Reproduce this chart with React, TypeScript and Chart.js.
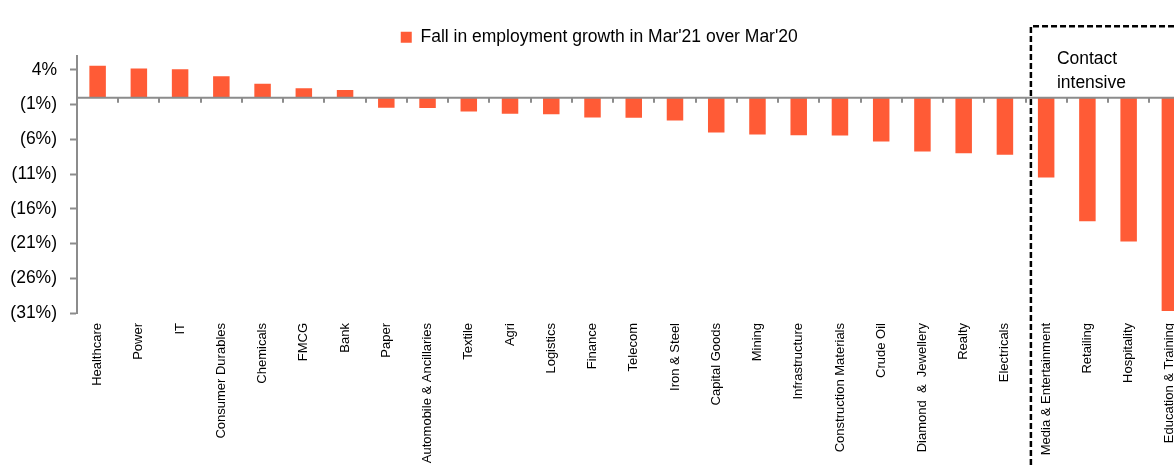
import { useEffect, useRef } from 'react';
import { Chart, registerables } from 'chart.js';

Chart.register(...registerables);

const categories = [
  'Healthcare',
  'Power',
  'IT',
  'Consumer Durables',
  'Chemicals',
  'FMCG',
  'Bank',
  'Paper',
  'Automobile & Ancillaries',
  'Textile',
  'Agri',
  'Logistics',
  'Finance',
  'Telecom',
  'Iron & Steel',
  'Capital Goods',
  'Mining',
  'Infrastructure',
  'Construction Materials',
  'Crude Oil',
  'Diamond  &  Jewellery',
  'Realty',
  'Electricals',
  'Media & Entertainment',
  'Retailing',
  'Hospitality',
  'Education & Training',
];

const growth = [
  4.6, 4.2, 4.1, 3.1, 2.0, 1.35, 1.1, -1.45, -1.5, -2.0, -2.3, -2.4, -2.85, -2.9,
  -3.3, -5.0, -5.3, -5.4, -5.45, -6.3, -7.75, -8.0, -8.2, -11.5, -17.8, -20.7, -30.7,
];

const seriesLabel = "Fall in employment growth in Mar'21 over Mar'20";
const yTickValues = [4, -1, -6, -11, -16, -21, -26, -31];
const yMin = -31;
const yMax = 6;

const contactLines = ['Contact', 'intensive'];
const contactBoundary = 22.63; // category position of the dashed boundary
const contactBoxTop = 10.3; // value level of the dashed box top

const FONT = "'Liberation Sans', Arial, Helvetica, sans-serif";
const BAR = '#ff5b36';
const AXIS = '#8c8c8c';

const fmt = (v: number) => (v >= 0 ? `${v}%` : `(${Math.abs(v)}%)`);

const overlay = {
  id: 'overlay',
  afterDatasetsDraw(chart: any) {
    const { ctx, chartArea, scales } = chart;
    const x = scales.x;
    const y = scales.y;
    const y0 = y.getPixelForValue(0);
    ctx.save();
    ctx.strokeStyle = AXIS;
    ctx.lineWidth = 2;
    ctx.beginPath();
    ctx.moveTo(chartArea.left, y0);
    ctx.lineTo(chartArea.right, y0);
    for (let i = 0; i < categories.length; i++) {
      const bx = Math.round(x.getPixelForValue(i + 0.5));
      ctx.moveTo(bx, y0);
      ctx.lineTo(bx, y0 + 5);
    }
    ctx.stroke();
    ctx.restore();
  },
  afterDraw(chart: any) {
    const { ctx, scales } = chart;
    const x = scales.x;
    const y = scales.y;
    const bx = x.getPixelForValue(contactBoundary);
    const by = y.getPixelForValue(contactBoxTop);
    ctx.save();
    ctx.strokeStyle = '#000';
    ctx.lineWidth = 2.5;
    ctx.setLineDash([6, 3]);
    ctx.beginPath();
    ctx.moveTo(bx, chart.height);
    ctx.lineTo(bx, by);
    ctx.lineTo(chart.width, by);
    ctx.stroke();
    ctx.setLineDash([]);
    ctx.fillStyle = '#000';
    ctx.font = `17.5px ${FONT}`;
    ctx.textAlign = 'left';
    ctx.textBaseline = 'middle';
    ctx.fillText(contactLines[0], bx + 26, by + 33);
    ctx.fillText(contactLines[1], bx + 26, by + 57);
    ctx.restore();
  },
};

export default function App() {
  const ref = useRef<HTMLCanvasElement | null>(null);

  useEffect(() => {
    if (!ref.current) return;
    const chart = new Chart(ref.current, {
      type: 'bar',
      data: {
        labels: categories,
        datasets: [
          {
            label: seriesLabel,
            data: growth,
            backgroundColor: BAR,
            borderWidth: 0,
            barPercentage: 0.4,
            categoryPercentage: 1.0,
          },
        ],
      },
      options: {
        responsive: false,
        animation: false,
        layout: { padding: { top: 8, left: 8, right: 7.5, bottom: 0 } },
        plugins: {
          legend: {
            display: true,
            position: 'top',
            labels: {
              boxWidth: 11,
              boxHeight: 11,
              padding: 10,
              color: '#000',
              font: { family: FONT, size: 17.5 },
            },
          },
          tooltip: { enabled: false },
        },
        scales: {
          x: {
            type: 'category',
            offset: true,
            grid: { display: false, drawTicks: false },
            border: { display: false },
            ticks: {
              autoSkip: false,
              minRotation: 90,
              maxRotation: 90,
              padding: 10,
              color: '#000',
              font: { family: FONT, size: 13 },
            },
            afterFit: (s: any) => {
              s.height = 152;
            },
          },
          y: {
            type: 'linear',
            min: yMin,
            max: yMax,
            grid: {
              drawOnChartArea: false,
              drawTicks: true,
              tickLength: 7,
              tickWidth: 2,
              tickColor: AXIS,
            },
            border: { display: true, color: AXIS, width: 2 },
            ticks: {
              padding: 13,
              color: '#000',
              font: { family: FONT, size: 17.5 },
              callback: (v: any) => fmt(Number(v)),
            },
            afterBuildTicks: (s: any) => {
              s.ticks = yTickValues.map((v) => ({ value: v }));
            },
            afterFit: (s: any) => {
              s.width = 69;
              s.paddingTop = 56;
            },
          },
        },
      },
      plugins: [overlay],
    });
    return () => chart.destroy();
  }, []);

  return (
    <div
      style={{
        position: 'fixed',
        left: 0,
        top: 0,
        width: 1174,
        height: 465,
        overflow: 'hidden',
        background: '#fff',
      }}
    >
      <canvas ref={ref} width={1198} height={465} style={{ width: 1198, height: 465, display: 'block' }} />
    </div>
  );
}
